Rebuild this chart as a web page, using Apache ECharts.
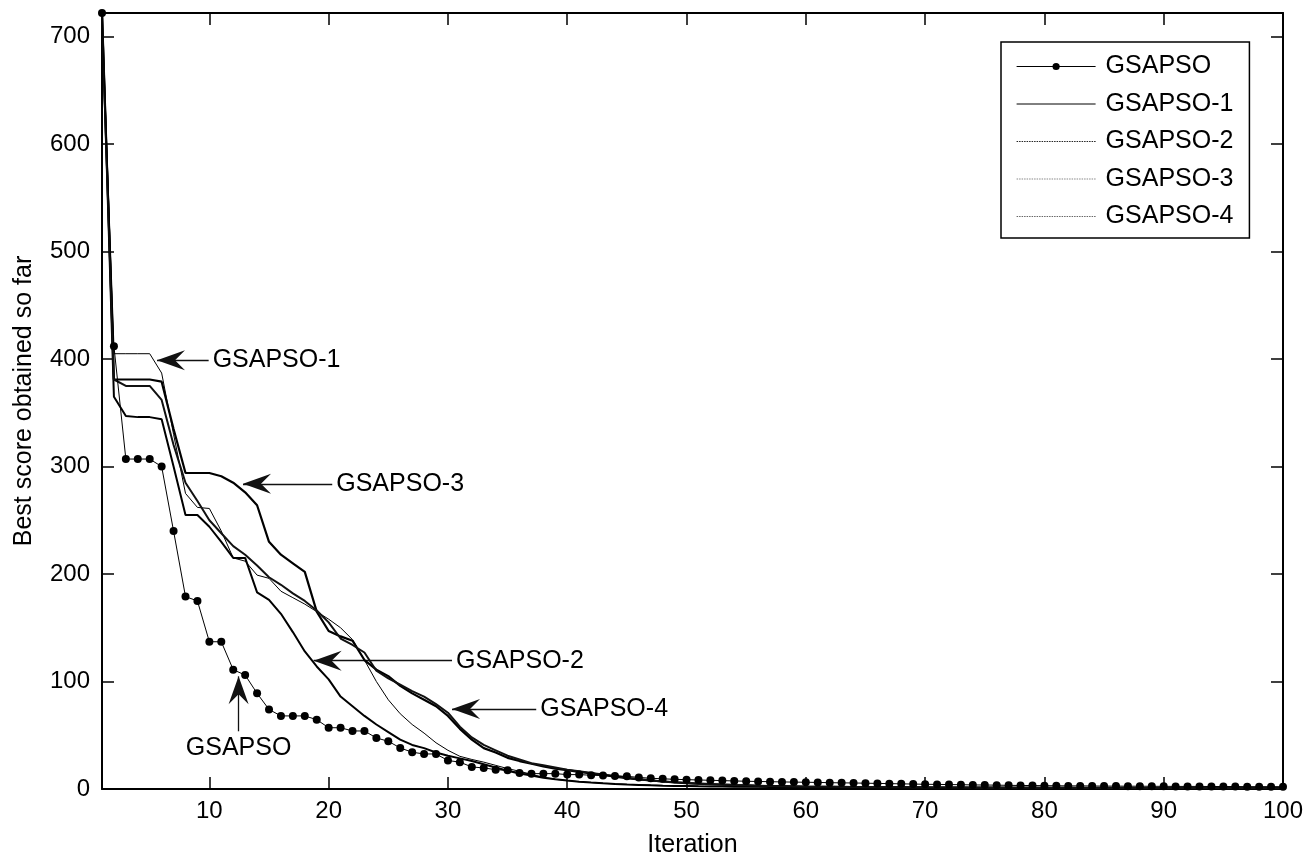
<!DOCTYPE html>
<html>
<head>
<meta charset="utf-8">
<script src="https://cdn.jsdelivr.net/npm/echarts@6/dist/echarts.min.js"></script>
<style>
html,body{margin:0;padding:0;background:#fff;}
#chart{width:1308px;height:859px;}
</style>
</head>
<body>
<div id="chart"></div>
<script>
const seriesNames = ['GSAPSO', 'GSAPSO-1', 'GSAPSO-2', 'GSAPSO-3', 'GSAPSO-4'];
const xTicks = [10, 20, 30, 40, 50, 60, 70, 80, 90, 100];
const yTicks = [0, 100, 200, 300, 400, 500, 600, 700];

const gsapso = [
722, 412, 307, 307, 307, 300, 240, 179, 175, 137,
137, 111, 106, 89, 74, 68, 68, 68, 64.5, 57,
57, 54, 54, 47.5, 44.4, 38.2, 34.2, 32.6, 32.6, 26.5,
25, 20.5, 19.6, 18, 17.4, 15, 14.3, 14.3, 14.3, 13.4,
13.4, 12.8, 12.5, 12.2, 11.8, 10.8, 10, 9.5, 9, 8.7,
8.4, 8.1, 7.8, 7.5, 7.2, 7, 6.8, 6.6, 6.4, 6.3,
6.1, 5.9, 5.7, 5.6, 5.4, 5.2, 5, 4.8, 4.6, 4.4,
4.3, 4.1, 4, 3.8, 3.7, 3.6, 3.4, 3.3, 3.2, 3.1,
3, 2.9, 2.9, 2.8, 2.7, 2.7, 2.6, 2.6, 2.5, 2.5,
2.4, 2.4, 2.4, 2.3, 2.3, 2.3, 2.2, 2.2, 2.2, 2.2];

const gsapso1 = [
722, 405, 405, 405, 405, 387, 330, 275, 262, 261,
240, 215, 212, 199, 196, 184, 178, 172, 165, 158,
150, 139, 120, 100, 83, 70, 60, 52, 43, 36,
30.4, 27.5, 25, 22, 19, 16.5, 13.5, 11, 9, 7.8,
6.8, 6, 5.3, 4.8, 4.3, 3.9, 3.6, 3.3, 3, 2.8,
2.6, 2.4, 2.3, 2.2, 2.1, 2, 1.9, 1.8, 1.7, 1.6,
1.5, 1.45, 1.4, 1.35, 1.3, 1.25, 1.2, 1.15, 1.1, 1.05,
1, 0.98, 0.95, 0.92, 0.9, 0.88, 0.85, 0.82, 0.8, 0.78,
0.76, 0.74, 0.72, 0.7, 0.68, 0.66, 0.64, 0.62, 0.6, 0.59,
0.58, 0.57, 0.56, 0.55, 0.54, 0.53, 0.52, 0.51, 0.5, 0.5];

const gsapso2 = [
722, 365, 347, 346, 346, 344, 300, 255, 255, 244,
230, 215, 215, 183, 176, 163, 146, 128, 114, 102,
86, 77, 68, 60, 53, 46, 41, 38, 34, 31,
28.5, 26, 23, 20, 17, 14.5, 12.5, 10.5, 9, 7.8,
6.8, 6, 5.3, 4.7, 4.2, 3.8, 3.4, 3.1, 2.9, 2.7,
2.5, 2.4, 2.3, 2.2, 2.1, 2, 1.95, 1.9, 1.85, 1.8,
1.75, 1.7, 1.65, 1.6, 1.55, 1.5, 1.45, 1.4, 1.35, 1.3,
1.27, 1.24, 1.21, 1.18, 1.15, 1.12, 1.1, 1.08, 1.06, 1.04,
1.02, 1, 0.98, 0.96, 0.94, 0.92, 0.9, 0.89, 0.88, 0.87,
0.86, 0.85, 0.84, 0.83, 0.82, 0.81, 0.8, 0.8, 0.8, 0.8];

const gsapso3 = [
722, 381, 381, 381, 381, 379, 335, 294, 294, 294,
291, 285, 276, 264, 230, 218, 210, 202, 165, 147,
142, 138, 120, 111, 105, 96, 89, 83, 77, 68,
56, 46, 38, 34, 29, 26, 23.5, 21, 19, 17.5,
16, 14.5, 13, 11.5, 10, 9, 8, 7, 6.2, 5.5,
5, 4.5, 4, 3.6, 3.3, 3, 2.8, 2.6, 2.4, 2.2,
2.1, 2, 1.9, 1.8, 1.7, 1.65, 1.6, 1.55, 1.5, 1.45,
1.4, 1.35, 1.3, 1.27, 1.24, 1.21, 1.18, 1.15, 1.12, 1.1,
1.08, 1.06, 1.04, 1.02, 1, 0.98, 0.96, 0.94, 0.92, 0.9,
0.89, 0.88, 0.87, 0.86, 0.85, 0.84, 0.83, 0.82, 0.81, 0.8];

const gsapso4 = [
722, 381, 375, 375, 375, 362, 320, 285, 268, 250,
238, 226, 218, 208, 197, 190, 182, 175, 166, 155,
140, 134, 127, 110, 103, 97, 91, 86, 79, 71,
58, 48, 41, 36, 31, 27.5, 24, 22, 20, 18,
16.5, 15, 13.5, 12, 10.5, 9, 8, 7, 6.2, 5.5,
5, 4.5, 4.1, 3.7, 3.4, 3.1, 2.8, 2.6, 2.4, 2.2,
2.1, 2, 1.9, 1.8, 1.7, 1.65, 1.6, 1.55, 1.5, 1.45,
1.4, 1.35, 1.3, 1.27, 1.24, 1.21, 1.18, 1.15, 1.12, 1.1,
1.08, 1.06, 1.04, 1.02, 1, 0.98, 0.96, 0.94, 0.92, 0.9,
0.89, 0.88, 0.87, 0.86, 0.85, 0.84, 0.83, 0.82, 0.81, 0.8];

// annotation arrows: text, tail (x,y), tip (x,y) in data coordinates
const annoText = ['GSAPSO-1', 'GSAPSO-3', 'GSAPSO-2', 'GSAPSO-4', 'GSAPSO'];
const annoTail = [[9.94, 399], [20.3, 284], [30.34, 119.4], [37.4, 74.5], [12.45, 53.7]];
const annoTip  = [[5.61, 399], [12.82, 284], [18.74, 119.4], [30.34, 74.5], [12.45, 104.8]];

const FONT = '"Liberation Sans", Arial, Helvetica, sans-serif';
const pairs = arr => arr.map((v, i) => [i + 1, v]);

const arrowPath = 'path://M10,0 L20,28 L10,18 L0,28 Z';

const markLineData = annoText.map((t, k) => [
  { coord: annoTail[k], label: { formatter: t } },
  { coord: annoTip[k], label: { formatter: t } }
]);

const chart = echarts.init(document.getElementById('chart'), null, { renderer: 'canvas' });

const axisLineStyle = { color: '#000', width: 2 };
const tickStyle = { color: '#000', width: 1.5 };
const hiddenDot = { color: 'rgba(0,0,0,0)', borderColor: 'rgba(0,0,0,0)', opacity: 0 };

const option = {
  animation: false,
  backgroundColor: '#fff',
  textStyle: { fontFamily: FONT },
  grid: { left: 102, right: 25, top: 13, bottom: 70, containLabel: false, outerBoundsMode: 'none' },
  legend: {
    orient: 'vertical',
    left: 1001,
    top: 42,
    backgroundColor: '#fff',
    borderColor: '#000',
    borderWidth: 1.5,
    borderRadius: 0,
    padding: [12, 16, 9, 15],
    itemWidth: 79,
    itemHeight: 9,
    itemGap: 12.5,
    textStyle: { fontFamily: FONT, fontSize: 25, color: '#000', lineHeight: 25, padding: [0, 0, 0, 5] },
    selectedMode: false,
    data: [
      { name: 'GSAPSO', lineStyle: { color: '#000', width: 1, type: 'solid' }, itemStyle: { color: '#000' } },
      { name: 'GSAPSO-1', lineStyle: { color: '#000', width: 1, type: 'solid' }, itemStyle: hiddenDot },
      { name: 'GSAPSO-2', lineStyle: { color: '#222', width: 1.2, type: [1.5, 1] }, itemStyle: hiddenDot },
      { name: 'GSAPSO-3', lineStyle: { color: '#888', width: 1.2, type: [1.5, 1] }, itemStyle: hiddenDot },
      { name: 'GSAPSO-4', lineStyle: { color: '#666', width: 1.2, type: [1.5, 1] }, itemStyle: hiddenDot }
    ]
  },
  xAxis: [
    {
      type: 'value', min: 1, max: 100, position: 'bottom',
      name: 'Iteration', nameLocation: 'middle', nameGap: 44,
      nameTextStyle: { fontFamily: FONT, fontSize: 25, color: '#000' },
      axisLine: { show: true, onZero: false, lineStyle: axisLineStyle },
      axisTick: { show: true, inside: true, length: 12, customValues: xTicks, lineStyle: tickStyle },
      axisLabel: { show: true, customValues: xTicks, fontFamily: FONT, fontSize: 24, color: '#000', margin: 10 },
      splitLine: { show: false }
    },
    {
      type: 'value', min: 1, max: 100, position: 'top',
      axisLine: { show: true, onZero: false, lineStyle: axisLineStyle },
      axisTick: { show: true, inside: true, length: 12, customValues: xTicks, lineStyle: tickStyle },
      axisLabel: { show: false },
      splitLine: { show: false }
    }
  ],
  yAxis: [
    {
      type: 'value', min: 0, max: 722, position: 'left',
      name: 'Best score obtained so far', nameLocation: 'middle', nameGap: 65, nameRotate: 90,
      nameTextStyle: { fontFamily: FONT, fontSize: 25, color: '#000' },
      axisLine: { show: true, onZero: false, lineStyle: axisLineStyle },
      axisTick: { show: true, inside: true, length: 12, customValues: yTicks, lineStyle: tickStyle },
      axisLabel: { show: true, customValues: yTicks, fontFamily: FONT, fontSize: 24, color: '#000', margin: 12 },
      splitLine: { show: false }
    },
    {
      type: 'value', min: 0, max: 722, position: 'right',
      axisLine: { show: true, onZero: false, lineStyle: axisLineStyle },
      axisTick: { show: true, inside: true, length: 12, customValues: yTicks, lineStyle: tickStyle },
      axisLabel: { show: false },
      splitLine: { show: false }
    }
  ],
  series: [
    {
      name: 'GSAPSO', type: 'line', data: pairs(gsapso), z: 10,
      symbol: 'circle', symbolSize: 8, showSymbol: true, showAllSymbol: true,
      lineStyle: { color: '#000', width: 1 }, itemStyle: { color: '#000' },
      emphasis: { disabled: true },
      markLine: {
        silent: true,
        symbol: ['none', arrowPath],
        symbolSize: [20, 28],
        symbolOffset: [[0, 0], [0, 14]],
        lineStyle: { color: '#111', width: 1.3, type: 'solid' },
        label: { show: true, position: 'start', distance: 4, fontFamily: FONT, fontSize: 25, color: '#000' },
        emphasis: { disabled: true },
        data: markLineData
      }
    },
    {
      name: 'GSAPSO-1', type: 'line', data: pairs(gsapso1), z: 5,
      symbol: 'none', showSymbol: false,
      lineStyle: { color: '#000', width: 1 }, itemStyle: { color: '#000' },
      emphasis: { disabled: true }
    },
    {
      name: 'GSAPSO-2', type: 'line', data: pairs(gsapso2), z: 6,
      symbol: 'none', showSymbol: false,
      lineStyle: { color: '#000', width: 2 }, itemStyle: { color: '#000' },
      emphasis: { disabled: true }
    },
    {
      name: 'GSAPSO-3', type: 'line', data: pairs(gsapso3), z: 6,
      symbol: 'none', showSymbol: false,
      lineStyle: { color: '#000', width: 2.2 }, itemStyle: { color: '#000' },
      emphasis: { disabled: true }
    },
    {
      name: 'GSAPSO-4', type: 'line', data: pairs(gsapso4), z: 6,
      symbol: 'none', showSymbol: false,
      lineStyle: { color: '#111', width: 2 }, itemStyle: { color: '#000' },
      emphasis: { disabled: true }
    }
  ]
};

chart.setOption(option);
</script>
</body>
</html>
